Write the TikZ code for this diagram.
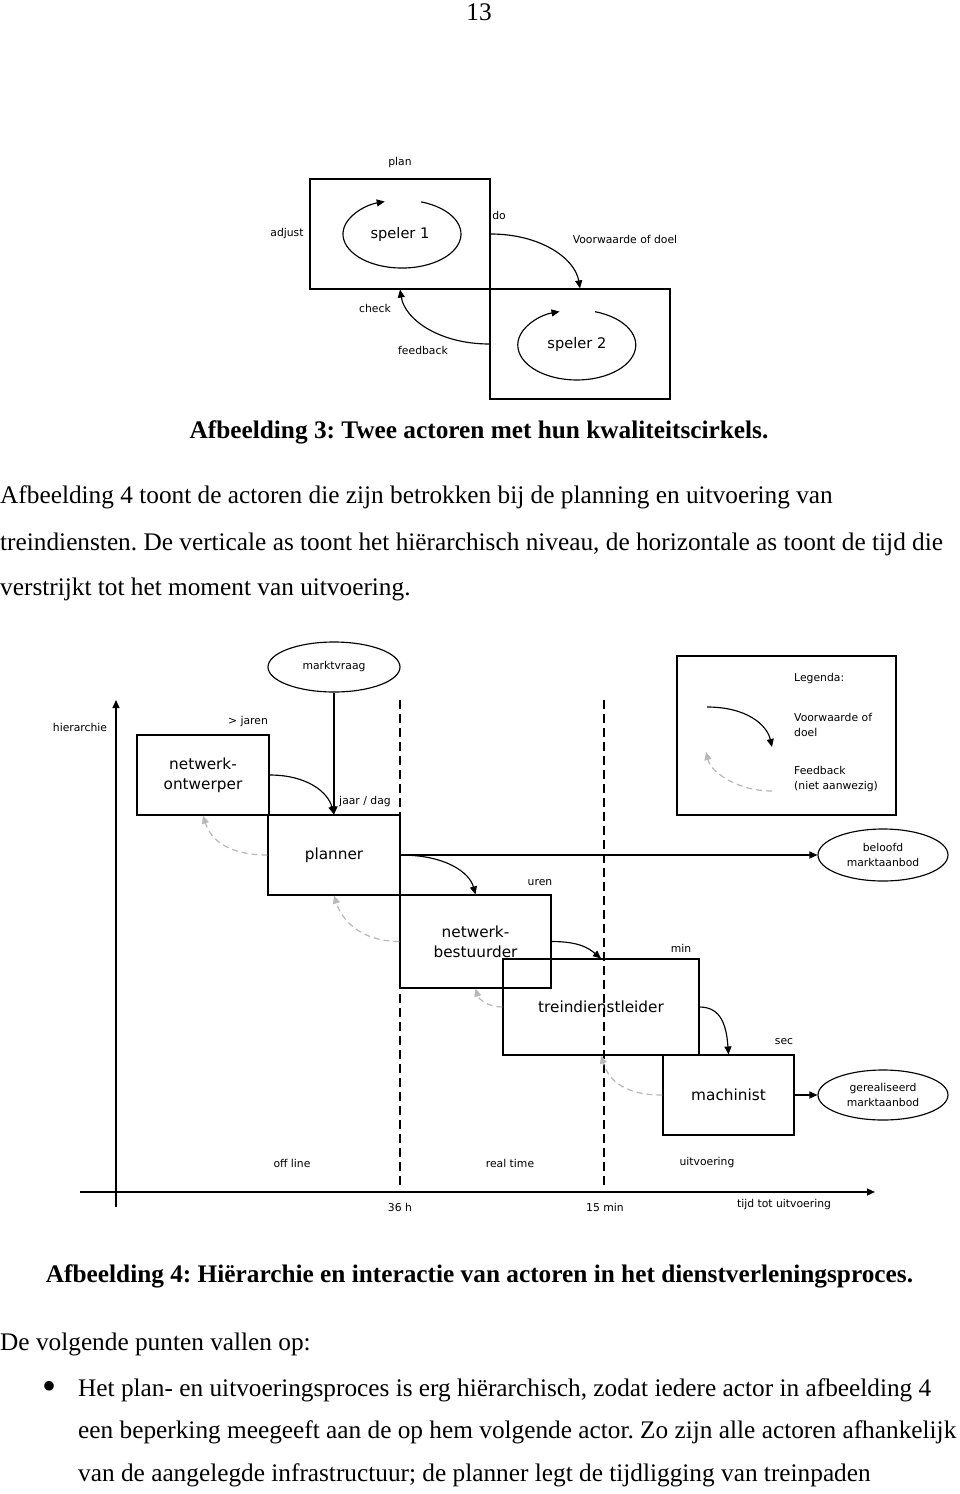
\documentclass[tikz,border=0pt]{standalone}
\usepackage{fontspec}
\setmainfont{Liberation Serif}
\newfontfamily\vf{DejaVu Sans}
\usetikzlibrary{arrows.meta,calc,shapes.geometric}
\frenchspacing
\tikzset{
  lbl/.style={font=\vf\fontsize{10.8}{15.5}\selectfont, inner sep=0pt, align=center},
  bigtxt/.style={font=\vf\fontsize{15.3}{20}\selectfont},
  actor/.style={draw, line width=1.15pt, rectangle, inner sep=0pt, bigtxt, align=center},
  oval/.style={draw, ellipse, line width=1.15pt, inner sep=0pt, lbl},
  flow/.style={line width=1.15pt, -{Triangle[length=8pt,width=7pt]}},
  cyc/.style={line width=1.15pt, -{Triangle[length=8pt,width=7pt]}},
  fb/.style={line width=1.2pt, draw=black!28, dash pattern=on 6pt off 4pt, -{Triangle[length=8pt,width=7pt,fill=black!28]}},
  dashv/.style={line width=1.3pt, dash pattern=on 9pt off 5pt},
  axisline/.style={line width=1.15pt, -{Triangle[length=8pt,width=7pt]}},
  body/.style={font=\fontsize{25.3}{30}\selectfont, inner sep=0pt},
  bodyb/.style={font=\bfseries\fontsize{25.3}{30}\selectfont, inner sep=0pt},
}
\begin{document}
\begin{tikzpicture}[x=1pt,y=-1pt]
\useasboundingbox[fill=white] (0,0) rectangle (960,1494);

% page number
\node[body] (pg) at (479,12) {13};

% ---------- figure 3 ----------
\node[actor, minimum width=180, minimum height=110, font=\vf\fontsize{14.6}{18}\selectfont] (s1) at (400,234) {speler 1};
\node[actor, minimum width=180, minimum height=110, font=\vf\fontsize{14.6}{18}\selectfont, text width=160] (s2) at (580,344) {\hspace*{-6pt}speler 2};
\draw[cyc] (421.2,201.9) arc[start angle=-71, end angle=253, x radius=59, y radius=34];
\draw[cyc] (595.0,311.7) arc[start angle=-72, end angle=253, x radius=59, y radius=35];
\node[lbl] (plan) at (400,163) {plan};
\node[lbl] (adjust) at (287,234) {adjust};
\node[lbl] (do) at (499,215) {do};
\node[lbl] (vwd) at (625,239) {Voorwaarde of doel};
\node[lbl] (check) at (375,308) {check};
\node[lbl] (feedb) at (423,350) {feedback};
\draw[flow] (s1.east) .. controls +(50,0) and +(-5,-30) .. (s2.north);
\draw[flow] (s2.west) .. controls +(-50,0) and +(5,30) .. (s1.south);

\node[bodyb] (cap3) at (479,432) {Afbeelding 3: Twee actoren met hun kwaliteitscirkels.};

\node[body, anchor=west] (t1) at (0,497) {Afbeelding 4 toont de actoren die zijn betrokken bij de planning en uitvoering van};
\node[body, anchor=west] (t2) at (0,544) {treindiensten. De verticale as toont het hiërarchisch niveau, de horizontale as toont de tijd die};
\node[body, anchor=west] (t3) at (0,589) {verstrijkt tot het moment van uitvoering.};

% ---------- figure 4 ----------
\coordinate (d1a) at (400,700); \coordinate (d1b) at (400,1187);
\coordinate (d2a) at (604,700); \coordinate (d2b) at (604,1187);
\draw[dashv] (d1a) -- (d1b);
\draw[dashv] (d2a) -- (d2b);

\coordinate (va) at (116,1207); \coordinate (vb) at (116,700);
\coordinate (ha) at (80,1192); \coordinate (hb) at (875,1192);
\draw[axisline] (va) -- (vb);
\draw[axisline] (ha) -- (hb);

\node[oval, minimum width=132, minimum height=50] (mv) at (334,667) {marktvraag};
\node[oval, minimum width=130, minimum height=52] (bm) at (883,855) {beloofd\\marktaanbod};
\node[oval, minimum width=130, minimum height=50] (gm) at (883,1095) {gerealiseerd\\marktaanbod};

\node[actor, minimum width=132, minimum height=80] (nwo) at (203,775) {netwerk-\\ontwerper};
\node[actor, minimum width=132, minimum height=80, fill=white] (pl) at (334,855) {planner};
\node[actor, minimum width=151, minimum height=93] (nb) at (475.5,941.5) {netwerk-\\bestuurder};
\node[actor, minimum width=196, minimum height=96] (td) at (601,1007) {treindienstleider};
\node[actor, minimum width=131, minimum height=80, fill=white] (ma) at (728.5,1095) {machinist};

% legend
\node[draw, line width=1.15pt, minimum width=219, minimum height=159, inner sep=0pt] (leg) at (786.5,735.5) {};
\node[lbl, anchor=west] (legt) at (794,679) {Legenda:};
\node[lbl, anchor=west, align=left] (legv) at (794,725) {Voorwaarde of\\doel};
\node[lbl, anchor=west, align=left] (legf) at (794,779) {Feedback\\(niet aanwezig)};
\coordinate (l1a) at (707,707); \coordinate (l1b) at (772,747);
\coordinate (l2a) at (772,791); \coordinate (l2b) at (706,752);
\draw[flow] (l1a) .. controls +(40,0) and +(-5,-22) .. (l1b);
\draw[fb] (l2a) .. controls +(-35,0) and +(5,20) .. (l2b);

% labels
\node[lbl] (hier) at (80,727) {hierarchie};
\node[lbl] (jaren) at (248,722) {> jaren};
\node[lbl] (jd) at (365,802) {jaar / dag};
\node[lbl] (uren) at (540,883) {uren};
\node[lbl] (min) at (681,948) {min};
\node[lbl] (sec) at (784,1042) {sec};
\node[lbl] (offl) at (292,1163) {off line};
\node[lbl] (rt) at (510,1163) {real time};
\node[lbl] (uitv) at (707,1163) {uitvoering};
\node[lbl] (h36) at (400,1207) {36 h};
\node[lbl] (m15) at (605,1207) {15 min};
\node[lbl] (ttu) at (784,1205) {tijd tot uitvoering};

% black arrows
\draw[flow] (mv.south) -- (pl.north);
\draw[flow] (nwo.east) .. controls +(38,0) and +(-6,-22) .. (pl.north);
\draw[flow] (pl.east) .. controls +(45,0) and +(-6,-22) .. (nb.north);
\draw[flow] (pl.east) -- (bm.west);
\draw[flow] (nb.east) .. controls +(28,0) and +(-12,-10) .. (td.north);
\draw[flow] (td.east) .. controls +(22,0) and +(-2,-28) .. (ma.north);
\draw[flow] (ma.east) -- (gm.west);

% feedback arrows
\draw[fb] (pl.west) .. controls +(-38,0) and +(8,25) .. (nwo.south);
\draw[fb] (nb.west) .. controls +(-38,0) and +(8,25) .. (pl.south);
\draw[fb] (td.west) .. controls +(-15,0) and +(3,10) .. (nb.south);
\draw[fb] (ma.west) .. controls +(-38,0) and +(8,25) .. (td.south);

\node[bodyb] (cap4) at (479.5,1276) {Afbeelding 4: Hiërarchie en interactie van actoren in het dienstverleningsproces.};

\node[body, anchor=west] (p1) at (0,1344) {De volgende punten vallen op:};
\node[body, font=\fontsize{40}{40}\selectfont] (bul) at (50,1390) {•};
\node[body, anchor=west] (b1) at (78,1390) {Het plan- en uitvoeringsproces is erg hiërarchisch, zodat iedere actor in afbeelding 4};
\node[body, anchor=west] (b2) at (78,1432) {een beperking meegeeft aan de op hem volgende actor. Zo zijn alle actoren afhankelijk};
\node[body, anchor=west] (b3) at (78,1475) {van de aangelegde infrastructuur; de planner legt de tijdligging van treinpaden};
\end{tikzpicture}
\end{document}
